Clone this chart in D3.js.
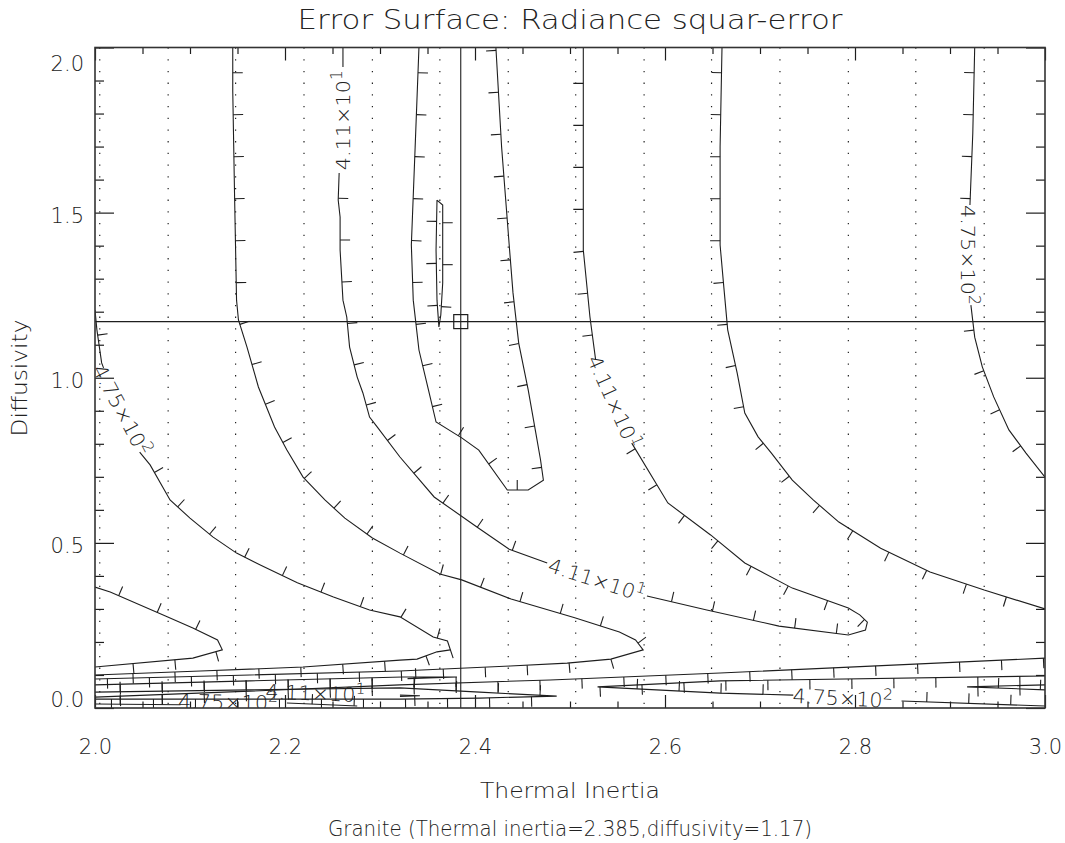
<!DOCTYPE html>
<html>
<head>
<meta charset="utf-8">
<script src="https://cdn.jsdelivr.net/npm/d3@7/dist/d3.min.js"></script>
<style>
  body { margin: 0; background: #fff; }
  text { font-family: "DejaVu Sans", sans-serif; font-weight: 200; fill: #222; }
</style>
</head>
<body>
<svg width="1065" height="843"></svg>
<script>
// axis values
const xMajor = [2.0, 2.2, 2.4, 2.6, 2.8, 3.0];
const xMinor = [2.05, 2.1, 2.15, 2.25, 2.3, 2.35, 2.45, 2.5, 2.55, 2.65, 2.7, 2.75, 2.85, 2.9, 2.95];
const yMajor = [0.0, 0.5, 1.0, 1.5, 2.0];
const yMinor = [0.1, 0.2, 0.3, 0.4, 0.6, 0.7, 0.8, 0.9, 1.1, 1.2, 1.3, 1.4, 1.6, 1.7, 1.8, 1.9];
// sample columns of the error grid (dotted)
const gridX = [2.005, 2.077, 2.148, 2.220, 2.292, 2.363, 2.435, 2.506, 2.578, 2.649, 2.721, 2.793, 2.864, 2.936];
// best fit: thermal inertia, diffusivity
const bestFit = [2.385, 1.17];

// contour pieces [thermal inertia, diffusivity], broken where a label sits
const arcA = [[2.145,2.0],[2.145,1.868],[2.147,1.538],[2.149,1.235],[2.151,1.175],[2.160,1.093],[2.172,0.972],[2.189,0.851],[2.202,0.781],[2.219,0.699],[2.242,0.630],[2.263,0.575],[2.292,0.515],[2.321,0.469],[2.363,0.406],[2.386,0.388],[2.438,0.330],[2.505,0.273],[2.552,0.230],[2.569,0.206],[2.577,0.176],[2.543,0.148],[2.497,0.136],[2.437,0.127],[2.321,0.112],[2.163,0.100],[2.0,0.088]];
const arcB1 = [[2.261,2.0],[2.261,1.941]];
const arcB2 = [[2.257,1.620],[2.256,1.538],[2.258,1.487],[2.258,1.387],[2.261,1.235],[2.265,1.184],[2.268,1.093],[2.276,1.002],[2.282,0.954],[2.289,0.881],[2.297,0.851],[2.321,0.760],[2.357,0.639],[2.402,0.548],[2.436,0.481],[2.476,0.439]];
const arcB3 = [[2.581,0.339],[2.644,0.297],[2.720,0.248],[2.793,0.221],[2.811,0.236],[2.813,0.260],[2.805,0.282],[2.793,0.303],[2.734,0.363],[2.684,0.439],[2.648,0.524],[2.603,0.621],[2.565,0.802]];
const arcB4 = [[2.527,1.054],[2.521,1.184],[2.514,1.387],[2.514,1.690],[2.514,2.0]];
const valleyU = [[2.341,2.0],[2.337,1.699],[2.333,1.402],[2.335,1.235],[2.341,1.084],[2.351,0.963],[2.359,0.866],[2.386,0.818],[2.404,0.781],[2.434,0.660],[2.456,0.660],[2.472,0.690],[2.469,0.751],[2.464,0.833],[2.456,0.963],[2.446,1.105],[2.440,1.257],[2.436,1.402],[2.428,1.699],[2.422,2.0]];
const spike = [[2.360,1.538],[2.366,1.523],[2.366,1.287],[2.364,1.190],[2.362,1.154],[2.360,1.235],[2.359,1.387],[2.360,1.538]];
const arcC = [[2.660,2.0],[2.658,1.699],[2.658,1.402],[2.662,1.272],[2.666,1.145],[2.676,1.014],[2.684,0.893],[2.698,0.821],[2.712,0.772],[2.734,0.690],[2.756,0.630],[2.783,0.563],[2.827,0.484],[2.879,0.412],[2.936,0.357],[3.0,0.300]];
const arcD1 = [[2.926,2.0],[2.924,1.741],[2.921,1.523]];
const arcD2 = [[2.922,1.220],[2.926,1.123],[2.934,1.033],[2.946,0.942],[2.962,0.842],[2.980,0.772],[3.0,0.699]];
const arcE1 = [[2.0,1.205],[2.002,1.145],[2.007,1.045],[2.009,1.030]];
const arcE2 = [[2.047,0.775],[2.058,0.736],[2.079,0.630],[2.100,0.575],[2.124,0.518],[2.149,0.469],[2.174,0.433],[2.213,0.379],[2.251,0.336],[2.289,0.297],[2.321,0.276],[2.356,0.215],[2.371,0.203],[2.377,0.151]];
const arcE3 = [[2.374,0.176],[2.360,0.170],[2.339,0.148],[2.321,0.145],[2.219,0.124],[2.111,0.112],[2.0,0.100]];
const tipF = [[2.0,0.366],[2.016,0.351],[2.076,0.276],[2.103,0.242],[2.129,0.206],[2.134,0.176],[2.103,0.151],[2.0,0.124]];
const bandLong = [[2.0,0.033],[2.163,0.051],[2.321,0.070],[2.479,0.085],[2.658,0.106],[3.0,0.151]];
const bandShort = [[2.0,0.070],[2.163,0.082],[2.324,0.094],[2.381,0.094],[2.329,0.089]];
const wedgeG = [[2.0,0.048],[2.163,0.055],[2.321,0.061],[2.405,0.048],[2.486,0.036],[2.405,0.030],[2.321,0.027],[2.163,0.027],[2.0,0.027]];
const wedgeH1 = [[3.0,0.097],[2.658,0.082],[2.529,0.064],[2.658,0.045],[2.735,0.039]];
const wedgeH2 = [[2.849,0.021],[3.0,0.006]];
const wedgeI = [[3.0,0.070],[2.918,0.064],[3.0,0.055]];
const stubJ = [[2.202,0.015],[2.276,0.006]];
const stubK = [[2.321,0.039],[2.342,0.037],[2.321,0.035]];
const stubL = [[2.0,0.012],[2.09,0.010]];

const pieces = [arcA, arcB1, arcB2, arcB3, arcB4, valleyU, spike, arcC, arcD1, arcD2,
                arcE1, arcE2, arcE3, tipF, bandLong, bandShort, wedgeG, wedgeH1, wedgeH2, wedgeI, stubJ, stubK, stubL];
// which side of the walking direction the downhill ticks go
const tickSide = [1, 1, 1, 1, 1, 1, 1, -1, -1, -1,
                  1, 1, 1, 1, -1, -1, 1, 1, 1, 1, 1, 1, 1];

// contour labels: position, mantissa, exponent
const labelAt = [[2.261,1.780],[2.528,0.388],[2.546,0.927],[2.919,1.372],[2.028,0.902],[2.140,0.018],[2.232,0.045],[2.787,0.030]];
const labelMant = ["4.11","4.11","4.11","4.75","4.75","4.75","4.11","4.75"];
const labelExp = ["1","1","1","2","2","2","1","2"];
const labelAngle = [-90, 18, 66, 90, 62, 1, 2, 3];

const svg = d3.select('svg');
const x = d3.scaleLinear().domain([2, 3]).range([95, 1045]);
const y = d3.scaleLinear().domain([0, 2]).range([708, 47.5]);
const ink = '#1e1e1e';

svg.append('defs').append('clipPath').attr('id', 'plot')
  .append('rect').attr('x', 95).attr('y', 47.5).attr('width', 950).attr('height', 660.5);

const plot = svg.append('g').attr('clip-path', 'url(#plot)');

// dotted sample columns
plot.selectAll('.grid').data(gridX).enter().append('line')
  .attr('x1', d => x(d)).attr('x2', d => x(d))
  .attr('y1', y(2)).attr('y2', y(0))
  .attr('stroke', '#222').attr('stroke-width', 1.2)
  .attr('stroke-dasharray', '1.3,10.4');

// contours
const line = d3.line().x(d => x(d[0])).y(d => y(d[1]));
plot.selectAll('.contour').data(pieces).enter().append('path')
  .attr('d', line).attr('fill', 'none').attr('stroke', ink).attr('stroke-width', 1.1);

// downhill ticks along each contour
const tickGap = 42, tickLen = 10;
function downhill(pts, side) {
  const p = pts.map(d => [x(d[0]), y(d[1])]);
  const out = [];
  let next = tickGap * 0.6, acc = 0;
  for (let i = 1; i < p.length; i++) {
    const [x0, y0] = p[i - 1], [x1, y1] = p[i];
    const len = Math.hypot(x1 - x0, y1 - y0);
    if (!len) continue;
    const ux = (x1 - x0) / len, uy = (y1 - y0) / len;
    while (next <= acc + len) {
      const t = next - acc;
      const px = x0 + ux * t, py = y0 + uy * t;
      out.push([px, py, px + side * uy * tickLen, py - side * ux * tickLen]);
      next += tickGap;
    }
    acc += len;
  }
  return out;
}
const ticks = pieces.flatMap((p, i) => downhill(p, tickSide[i]));
plot.selectAll('.dh').data(ticks).enter().append('line')
  .attr('x1', d => d[0]).attr('y1', d => d[1]).attr('x2', d => d[2]).attr('y2', d => d[3])
  .attr('stroke', ink).attr('stroke-width', 1.1);

// best fit cross hair
plot.append('line').attr('x1', x(2)).attr('x2', x(3))
  .attr('y1', y(bestFit[1])).attr('y2', y(bestFit[1])).attr('stroke', ink).attr('stroke-width', 1.1);
plot.append('line').attr('x1', x(bestFit[0])).attr('x2', x(bestFit[0]))
  .attr('y1', y(2)).attr('y2', y(0)).attr('stroke', ink).attr('stroke-width', 1.1);
plot.append('rect')
  .attr('x', x(bestFit[0]) - 7).attr('y', y(bestFit[1]) - 7)
  .attr('width', 14).attr('height', 14)
  .attr('fill', 'none').attr('stroke', ink).attr('stroke-width', 1.2);

// contour labels
labelAt.forEach((d, i) => {
  const t = plot.append('text')
    .attr('transform', `translate(${x(d[0])},${y(d[1])}) rotate(${labelAngle[i]})`)
    .attr('text-anchor', 'middle').attr('dy', '0.36em')
    .attr('font-size', 20).attr('textLength', 100).attr('lengthAdjust', 'spacingAndGlyphs');
  t.append('tspan').text(labelMant[i] + '×10');
  t.append('tspan').attr('dy', '-0.55em').attr('font-size', 15).text(labelExp[i]);
});

// axes, ticks pointing inward
function styleAxis(g) {
  g.select('.domain').remove();
  g.selectAll('line').attr('stroke', ink).attr('stroke-width', 1.2);
  g.selectAll('text').attr('font-size', 21).attr('fill', '#222')
    .style('font-family', '"DejaVu Sans", sans-serif').style('font-weight', 200);
}
svg.append('g').attr('transform', 'translate(0,708)')
  .call(d3.axisBottom(x).tickValues(xMajor).tickSize(-13).tickPadding(31).tickFormat(d3.format('.1f')))
  .call(styleAxis);
svg.append('g').attr('transform', 'translate(0,708)')
  .call(d3.axisBottom(x).tickValues(xMinor).tickSize(-6.5).tickFormat(''))
  .call(styleAxis);
svg.append('g').attr('transform', 'translate(0,47.5)')
  .call(d3.axisTop(x).tickValues(xMajor).tickSize(-13).tickFormat(''))
  .call(styleAxis);
svg.append('g').attr('transform', 'translate(0,47.5)')
  .call(d3.axisTop(x).tickValues(xMinor).tickSize(-6.5).tickFormat(''))
  .call(styleAxis);
const yAxis = svg.append('g').attr('transform', 'translate(95,0)')
  .call(d3.axisLeft(y).tickValues(yMajor).tickSize(-19).tickPadding(11).tickFormat(d3.format('.1f')))
  .call(styleAxis);
// end labels sit inside the axis range
yAxis.selectAll('.tick text').attr('dy', d => d === 2 ? '1.1em' : d === 0 ? '-0.05em' : '0.45em');
svg.append('g').attr('transform', 'translate(95,0)')
  .call(d3.axisLeft(y).tickValues(yMinor).tickSize(-9).tickFormat(''))
  .call(styleAxis);
svg.append('g').attr('transform', 'translate(1045,0)')
  .call(d3.axisRight(y).tickValues(yMajor).tickSize(-19).tickFormat(''))
  .call(styleAxis);
svg.append('g').attr('transform', 'translate(1045,0)')
  .call(d3.axisRight(y).tickValues(yMinor).tickSize(-9).tickFormat(''))
  .call(styleAxis);

// frame
svg.append('rect').attr('x', 95).attr('y', 47.5).attr('width', 950).attr('height', 660.5)
  .attr('fill', 'none').attr('stroke', '#333').attr('stroke-width', 1.6);

// titles
svg.append('text').attr('x', 570).attr('y', 29).attr('text-anchor', 'middle')
  .attr('font-size', 26).attr('textLength', 545).attr('lengthAdjust', 'spacingAndGlyphs')
  .text('Error Surface: Radiance squar-error');
svg.append('text').attr('x', 570).attr('y', 798).attr('text-anchor', 'middle')
  .attr('font-size', 21).attr('textLength', 180).attr('lengthAdjust', 'spacingAndGlyphs')
  .text('Thermal Inertia');
svg.append('text').attr('x', 570).attr('y', 836).attr('text-anchor', 'middle')
  .attr('font-size', 21).attr('textLength', 484).attr('lengthAdjust', 'spacingAndGlyphs')
  .text('Granite (Thermal inertia=2.385,diffusivity=1.17)');
svg.append('text').attr('transform', 'translate(27,378) rotate(-90)').attr('text-anchor', 'middle')
  .attr('font-size', 21).attr('textLength', 117).attr('lengthAdjust', 'spacingAndGlyphs')
  .text('Diffusivity');
</script>
</body>
</html>
